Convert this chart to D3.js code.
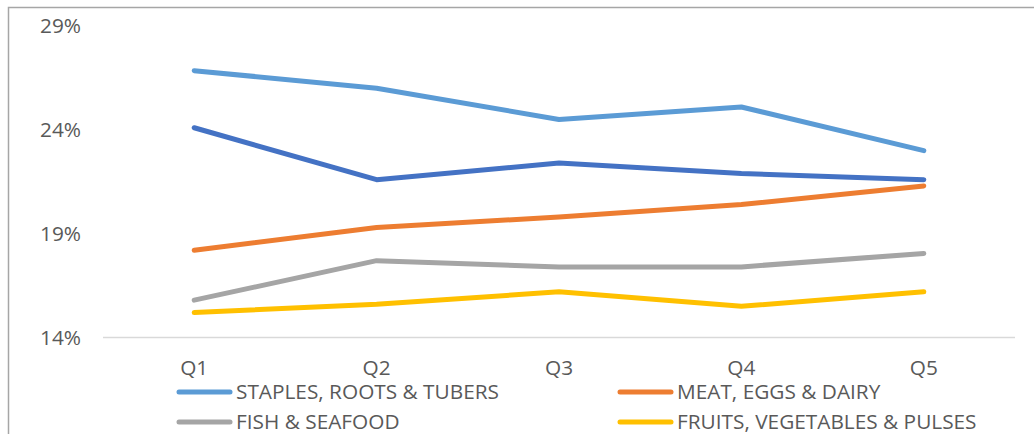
<!DOCTYPE html>
<html>
<head>
<meta charset="utf-8">
<script src="https://cdn.jsdelivr.net/npm/d3@7"></script>
<style>
  body { margin: 0; background: #fff; }
  svg { display: block; }
</style>
</head>
<body>
<svg id="chart" width="1034" height="434"></svg>
<script>
// data
const quintiles = ["Q1", "Q2", "Q3", "Q4", "Q5"];
const seriesNames = ["STAPLES, ROOTS & TUBERS", "MEAT, EGGS & DAIRY", "FISH & SEAFOOD", "FRUITS, VEGETABLES & PULSES", "OTHER"];
const staples = [26.85, 26.0, 24.5, 25.1, 23.0];
const meat = [18.2, 19.3, 19.8, 20.4, 21.3];
const fish = [15.8, 17.7, 17.4, 17.4, 18.05];
const fruits = [15.2, 15.6, 16.2, 15.5, 16.2];
const other = [24.1, 21.6, 22.4, 21.9, 21.6];
const yTicks = [14, 19, 24, 29];

const colors = ["#5B9BD5", "#ED7D31", "#A5A5A5", "#FFC000", "#4472C4"];
const allSeries = [staples, meat, fish, fruits, other];

const svg = d3.select("#chart");
const font = "'Open Sans', sans-serif";
const fontSize = 20.8;
const textColor = "#595959";

// frame of the chart area (cut off at right and bottom)
svg.append("path")
    .attr("d", "M8.5,434 V7.5 H1034")
    .attr("fill", "none")
    .attr("stroke", "#a6a6a6")
    .attr("stroke-width", 1.5);

const x = d3.scaleBand().domain(quintiles).range([103, 1015]).padding(0);
const y = d3.scaleLinear().domain([14, 29]).range([337.5, 26]);

// axis line at the bottom
svg.append("line")
    .attr("x1", 103).attr("x2", 1015)
    .attr("y1", y(14)).attr("y2", y(14))
    .attr("stroke", "#d9d9d9")
    .attr("stroke-width", 1.5);

// y tick labels
svg.append("g").selectAll("text")
    .data(yTicks)
    .join("text")
    .attr("x", 81)
    .attr("y", d => y(d))
    .attr("dy", "0.35em")
    .attr("text-anchor", "end")
    .attr("font-family", font)
    .attr("font-size", fontSize)
    .attr("fill", textColor)
    .text(d => d + "%");

// category labels
svg.append("g").selectAll("text")
    .data(quintiles)
    .join("text")
    .attr("x", d => x(d) + x.bandwidth() / 2)
    .attr("y", 368)
    .attr("dy", "0.35em")
    .attr("text-anchor", "middle")
    .attr("font-family", font)
    .attr("font-size", fontSize)
    .attr("fill", textColor)
    .text(d => d);

const line = d3.line()
    .x((d, i) => x(quintiles[i]) + x.bandwidth() / 2)
    .y(d => y(d));

svg.append("g").selectAll("path")
    .data(allSeries)
    .join("path")
    .attr("d", d => line(d))
    .attr("fill", "none")
    .attr("stroke", (d, i) => colors[i])
    .attr("stroke-width", 5)
    .attr("stroke-linecap", "round")
    .attr("stroke-linejoin", "round");

// legend (only first four series shown, the rest is cut off)
const legendPos = [
    { x: 177, y: 392 },
    { x: 618, y: 392 },
    { x: 177, y: 422 },
    { x: 618, y: 422 }
];
const leg = svg.append("g").selectAll("g")
    .data(seriesNames.slice(0, 4))
    .join("g")
    .attr("transform", (d, i) => `translate(${legendPos[i].x},${legendPos[i].y})`);

leg.append("line")
    .attr("x1", 2).attr("x2", 53)
    .attr("y1", 0).attr("y2", 0)
    .attr("stroke", (d, i) => colors[i])
    .attr("stroke-width", 5)
    .attr("stroke-linecap", "round");

leg.append("text")
    .attr("x", 59)
    .attr("dy", "0.35em")
    .attr("font-family", font)
    .attr("font-size", fontSize)
    .attr("fill", textColor)
    .text(d => d);
</script>
</body>
</html>
